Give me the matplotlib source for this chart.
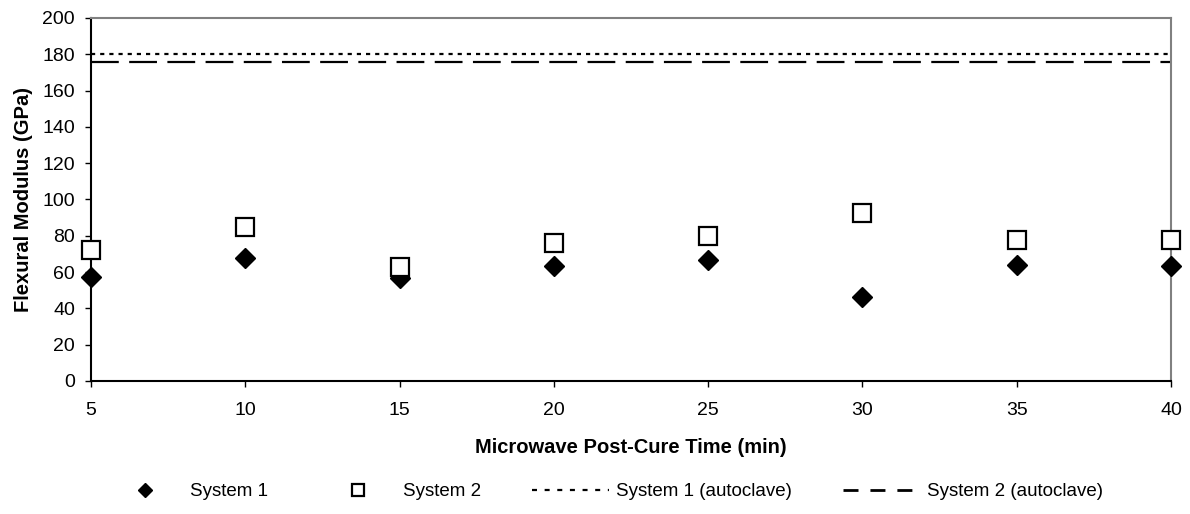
import numpy as np
import matplotlib
matplotlib.use('Agg')
import matplotlib.pyplot as plt
from matplotlib.lines import Line2D

plt.rcParams['font.family'] = ['Liberation Sans', 'DejaVu Sans']
plt.rcParams['lines.scale_dashes'] = False

# data
cure_time = [5, 10, 15, 20, 25, 30, 35, 40]
system1 = [57.5, 67.5, 56.5, 63.5, 66.5, 46.5, 64, 63.5]
system2 = [72, 85, 62.5, 76, 80, 92.5, 77.5, 77.5]
system1_autoclave = 180
system2_autoclave = 176

fig = plt.figure(figsize=(11.9, 5.14), dpi=100)
ax = fig.add_axes([0.0765, 0.259, 0.9075, 0.706])

ax.plot(cure_time, system1, linestyle='none', marker='D', markersize=10,
        color='black', clip_on=False, zorder=4)
ax.plot(cure_time, system2, linestyle='none', marker='s', markersize=13.5,
        markerfacecolor='white', markeredgecolor='black', markeredgewidth=1.6,
        clip_on=False, zorder=4)
ax.axhline(system1_autoclave, color='black', lw=1.6, dashes=(3, 3.6))
ax.axhline(system2_autoclave, color='black', lw=1.6, dashes=(20, 7.5))

ax.set_xlim(5, 40)
ax.set_ylim(0, 200)
ax.set_xticks(np.arange(5, 41, 5))
ax.set_yticks(np.arange(0, 201, 20))
ax.tick_params(direction='out', length=4, width=1, labelsize=14)
ax.tick_params(axis='x', pad=11)
ax.tick_params(axis='y', pad=7.5)

for s in ['top', 'right']:
    ax.spines[s].set_color('#808080')
    ax.spines[s].set_linewidth(1.5)
for s in ['left', 'bottom']:
    ax.spines[s].set_color('black')
    ax.spines[s].set_linewidth(1.5)

ax.set_xlabel('Microwave Post-Cure Time (min)', fontsize=14.5, fontweight='bold', labelpad=14)
ax.set_ylabel('Flexural Modulus (GPa)', fontsize=14.5, fontweight='bold', labelpad=7)

handles = [
    Line2D([], [], linestyle='none', marker='D', markersize=7.5, color='black'),
    Line2D([], [], linestyle='none', marker='s', markersize=9,
           markerfacecolor='white', markeredgecolor='black', markeredgewidth=1.6),
    Line2D([], [], color='black', lw=1.6, dashes=(3.6, 5.5)),
    Line2D([], [], color='black', lw=2, dashes=(10.8, 8.6)),
]
labels = ['System 1', 'System 2', 'System 1 (autoclave)', 'System 2 (autoclave)']
fig.legend(handles, labels, loc='center', bbox_to_anchor=(0.508, 0.043), ncol=4,
           frameon=False, fontsize=13.5, handlelength=4.1, handletextpad=0.35,
           columnspacing=2.75, borderpad=0)

fig.savefig('out.png', dpi=100)
